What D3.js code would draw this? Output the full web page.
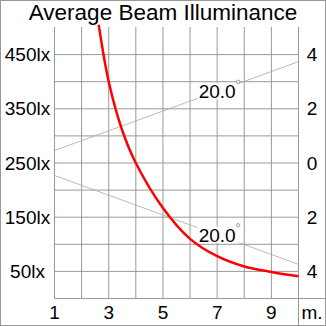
<!DOCTYPE html>
<html>
<head>
    <meta charset="utf-8">
    <title>Average Beam Illuminance</title>
    <script src="https://d3js.org/d3.v7.min.js"></script>
    <style>
        body { margin: 0; background: #fff; }
        text { font-family: "Liberation Sans", Arial, sans-serif; fill: #000; }
    </style>
</head>
<body>
    <div id="chart"></div>

    <script>
        // distance (m) vs illuminance (lx)
        var distances = [2.63, 3.0, 3.5, 4.0, 5.0, 6.0, 7, 8, 9, 10];
        var lux = [505, 400, 310, 250, 167, 110, 78, 59, 49, 41];

        // beam half width (m) at the two ends of the chart
        var beamDist = [1, 10];
        var beamHalf = [0.46, 3.74];
        var beamAngle = "20.0";

        var luxTicks = [450, 350, 250, 150, 50];
        var widthTicks = [4, 2, 0, -2, -4];
        var distTicks = [1, 3, 5, 7, 9];

        var width = 326, height = 326;

        var x = d3.scaleLinear().domain([1, 10]).range([54.5, 298.5]);
        var y = d3.scaleLinear().domain([0, 500]).range([298.5, 27.5]);
        var yR = d3.scaleLinear().domain([-5, 5]).range([298.5, 27.5]);

        var svg = d3.select("#chart")
            .append("svg")
            .attr("width", width)
            .attr("height", height);

        // outer frame
        svg.append("rect")
            .attr("x", 0.5).attr("y", 0.5)
            .attr("width", width - 1).attr("height", height - 1)
            .attr("fill", "none").attr("stroke", "#999");

        // grid
        var grid = svg.append("g").attr("stroke", "#999").attr("stroke-width", 1);
        grid.selectAll("line.v")
            .data(d3.range(1, 11))
            .enter().append("line")
            .attr("x1", function(d) { return x(d); })
            .attr("x2", function(d) { return x(d); })
            .attr("y1", y(500) - 0.5)
            .attr("y2", function(d) { return d === 10 ? height : y(0); });
        grid.selectAll("line.h")
            .data(d3.range(0, 500, 50))
            .enter().append("line")
            .attr("y1", function(d) { return y(d); })
            .attr("y2", function(d) { return y(d); })
            .attr("x1", x(1))
            .attr("x2", function(d) { return d === 0 ? width : x(10); });

        // beam edges
        var beam = svg.append("g").attr("stroke", "#aaa").attr("stroke-width", 0.8);
        [1, -1].forEach(function(s) {
            beam.append("line")
                .attr("x1", x(beamDist[0])).attr("y1", yR(s * beamHalf[0]))
                .attr("x2", x(beamDist[1])).attr("y2", yR(s * beamHalf[1]));
        });

        // beam angle labels
        var halfAt = d3.scaleLinear().domain(beamDist).range(beamHalf);
        [1, -1].forEach(function(s) {
            var cx = x(7), cy = yR(s * halfAt(7));
            var g = svg.append("g");
            var t = g.append("text")
                .attr("x", cx).attr("y", cy + 7)
                .attr("text-anchor", "middle")
                .style("font-size", "19px")
                .text(beamAngle);
            var b = t.node().getBBox();
            g.insert("rect", "text")
                .attr("x", b.x - 1).attr("y", cy - 8)
                .attr("width", b.width + 4).attr("height", 16)
                .attr("fill", "#fff");
            g.append("circle")
                .attr("cx", b.x + b.width + 2.5).attr("cy", cy - 9.5)
                .attr("r", 1.7)
                .attr("fill", "#fff").attr("stroke", "#888").attr("stroke-width", 0.8);
        });

        // illuminance curve
        var line = d3.line()
            .x(function(d, i) { return x(distances[i]); })
            .y(function(d) { return y(d); })
            .curve(d3.curveCatmullRom.alpha(0.5));
        svg.append("path")
            .attr("d", line(lux))
            .attr("fill", "none")
            .attr("stroke", "#ff0000")
            .attr("stroke-width", 2.5);

        // title
        svg.append("text")
            .attr("x", 163).attr("y", 19.5)
            .attr("text-anchor", "middle")
            .style("font-size", "22.5px")
            .text("Average Beam Illuminance");

        // left labels
        svg.selectAll("text.l")
            .data(luxTicks)
            .enter().append("text")
            .attr("x", 27.5)
            .attr("y", function(d) { return y(d) + 6.5; })
            .attr("text-anchor", "middle")
            .style("font-size", "19px")
            .text(function(d) { return d + "lx"; });

        // right labels
        svg.selectAll("text.r")
            .data(widthTicks)
            .enter().append("text")
            .attr("x", 312)
            .attr("y", function(d) { return yR(d) + 6.5; })
            .attr("text-anchor", "middle")
            .style("font-size", "19px")
            .text(function(d) { return Math.abs(d); });

        // bottom labels
        svg.selectAll("text.b")
            .data(distTicks)
            .enter().append("text")
            .attr("x", function(d) { return x(d); })
            .attr("y", 318.5)
            .attr("text-anchor", "middle")
            .style("font-size", "19px")
            .text(function(d) { return d; });
        svg.append("text")
            .attr("x", 312).attr("y", 318.5)
            .attr("text-anchor", "middle")
            .style("font-size", "19px")
            .text("m.");
    </script>
</body>
</html>
